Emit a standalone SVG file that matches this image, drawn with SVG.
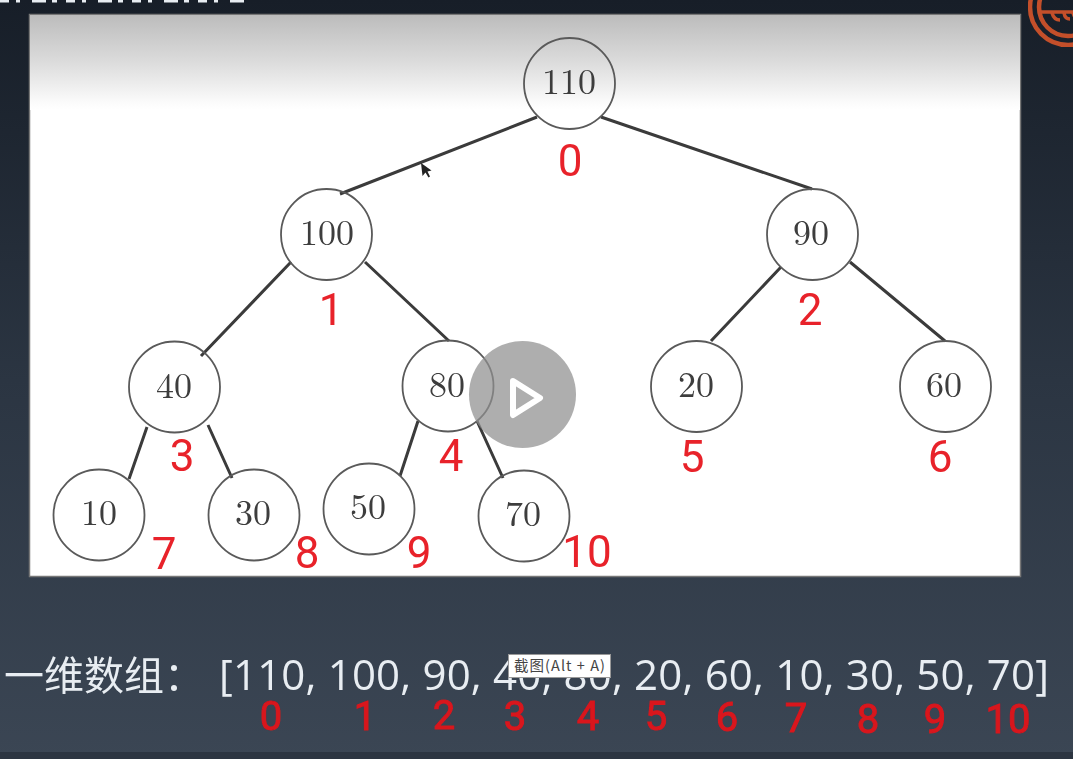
<svg xmlns="http://www.w3.org/2000/svg" width="1073" height="759" viewBox="0 0 1073 759">
<style>
.n{fill:#fff;fill-opacity:0;stroke:#5a5a5a;stroke-width:1.8}
.t{font-family:"Latin Modern Roman","Liberation Serif",serif;font-size:36px;fill:#3c3c3c;text-anchor:middle}
.r{font-family:"Liberation Sans Narrow","Roboto",sans-serif;font-size:44px;fill:#e8232a;text-anchor:middle}
.b{font-family:"Liberation Sans Narrow","Roboto",sans-serif;font-size:40px;fill:#d9141c;text-anchor:middle;stroke:#d9141c;stroke-width:1}
.w{font-family:"Open Sans","Noto Sans",sans-serif;font-size:42px;fill:#e8edf2}
.c{font-family:"Noto Sans CJK SC",sans-serif;font-size:40px;fill:#e8edf2}
.e{stroke:#3a3a3a;stroke-width:3;fill:none}
</style>
<defs>
<linearGradient id="bg" x1="0" y1="0" x2="0" y2="1"><stop offset="0" stop-color="#171e28"/><stop offset="0.5" stop-color="#2b3542"/><stop offset="1" stop-color="#3b4654"/></linearGradient>
<linearGradient id="shade" x1="0" y1="0" x2="0" y2="1"><stop offset="0" stop-color="#bcbcbc"/><stop offset="0.5" stop-color="#dcdcdc"/><stop offset="0.92" stop-color="#fbfbfb"/><stop offset="1" stop-color="#ffffff"/></linearGradient>
<filter id="soft" x="-2%" y="-2%" width="104%" height="104%"><feGaussianBlur stdDeviation="0.45"/></filter>
</defs>
<rect width="1073" height="759" fill="url(#bg)"/>
<rect y="752" width="1073" height="7" fill="#2c3541"/>
<path d="M0 1.200H245" stroke="#e8edf2" stroke-width="2.500" stroke-dasharray="9 7 4 12 14 6 5 9" fill="none"/>
<g id="logo" fill="none" stroke="#c4502a" stroke-width="4.500" filter="url(#soft)"><circle cx="1068" cy="7" r="38"/><circle cx="1068" cy="7" r="29"/><path d="M1038 12H1073M1052 13q2 7 8 7M1064 13q1 6 6 6M1073 13q2 7 8 7" stroke-width="3.500"/></g>
<rect x="29.500" y="14.500" width="991" height="562" fill="#fff" stroke="#777" stroke-width="1.500"/>
<rect x="30" y="15" width="990" height="95" fill="url(#shade)"/>
<g filter="url(#soft)">
<g id="connectors">
<path class="e" d="M537 117L340 194M601 117L812 189M291 262L201 356M365 262L449 341M781 267L711 341M850 262L945 341M147 427L129 479M208 425L232 478M418 421L400 476M477 421L503 478"/>
</g>
<g id="n110"><circle class="n" cx="569.500" cy="83.500" r="45.500"/><text class="t" x="569" y="94">110</text></g>
<g id="n100"><circle class="n" cx="326.500" cy="234.500" r="45.500"/><text class="t" x="327" y="245">100</text></g>
<g id="n90"><circle class="n" cx="812.500" cy="234.500" r="45.500"/><text class="t" x="811" y="245">90</text></g>
<g id="n40"><circle class="n" cx="174.500" cy="387" r="45.500"/><text class="t" x="174" y="398">40</text></g>
<g id="n80"><circle class="n" cx="448" cy="386" r="45.500"/><text class="t" x="447" y="397">80</text></g>
<g id="n20"><circle class="n" cx="696.500" cy="386.500" r="45.500"/><text class="t" x="696" y="397">20</text></g>
<g id="n60"><circle class="n" cx="945.500" cy="386.500" r="45.500"/><text class="t" x="944" y="397">60</text></g>
<g id="n10"><circle class="n" cx="99" cy="515" r="45.500"/><text class="t" x="99" y="525">10</text></g>
<g id="n30"><circle class="n" cx="254" cy="515" r="45.500"/><text class="t" x="253" y="525">30</text></g>
<g id="n50"><circle class="n" cx="369" cy="509" r="45.500"/><text class="t" x="368" y="519">50</text></g>
<g id="n70"><circle class="n" cx="524" cy="516" r="45.500"/><text class="t" x="523" y="526">70</text></g>
<g id="tree-indices">
<text class="r" x="570" y="176">0</text><text class="r" x="331" y="325">1</text><text class="r" x="810" y="325">2</text><text class="r" x="182" y="471">3</text><text class="r" x="451" y="471">4</text><text class="r" x="692" y="472">5</text><text class="r" x="940" y="472">6</text><text class="r" x="164" y="569">7</text><text class="r" x="307" y="568">8</text><text class="r" x="419" y="568">9</text><text class="r" x="587" y="567">10</text>
</g>
<path d="M421 163l1.500 13 3-3.500 3 5 1.500-1-2.500-5 4-1z" fill="#222"/>
</g>
<g id="play"><circle cx="522.500" cy="394.500" r="53.500" fill="#8f8f8f" fill-opacity=".72"/><path d="M513 381L540 398 513 415z" fill="none" stroke="#fff" stroke-width="6" stroke-linejoin="round"/></g>
<g filter="url(#soft)">
<text class="c" x="4" y="690">一维数组：</text>
<text class="w" x="219" y="690" textLength="830" lengthAdjust="spacing">[110, 100, 90, 40, 80, 20, 60, 10, 30, 50, 70]</text>
<g id="array-indices">
<text class="b" x="271" y="730">0</text><text class="b" x="365" y="730">1</text><text class="b" x="444" y="729">2</text><text class="b" x="515" y="730">3</text><text class="b" x="588" y="730">4</text><text class="b" x="656" y="730">5</text><text class="b" x="727" y="731">6</text><text class="b" x="796" y="732">7</text><text class="b" x="868" y="733">8</text><text class="b" x="935" y="733">9</text><text class="b" x="1008" y="733">10</text>
</g>
</g>
<g id="tooltip"><rect x="508.500" y="654.500" width="102" height="23" fill="#fff" stroke="#999"/><text x="514" y="671" font-family="'Noto Sans CJK SC',sans-serif" font-size="14.500" fill="#444" textLength="91" lengthAdjust="spacing">截图(Alt + A)</text></g>
</svg>
